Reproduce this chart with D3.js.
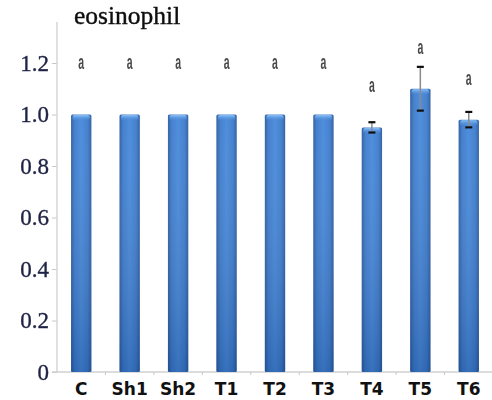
<!DOCTYPE html>
<html>
<head>
<meta charset="utf-8">
<script src="https://cdn.jsdelivr.net/npm/d3@7"></script>
<style>
  html, body { margin: 0; padding: 0; background: #fff; }
  svg { display: block; }
</style>
</head>
<body>
<svg id="chart" width="492" height="400"></svg>
<script>
// Relative eosinophil level per group, with standard error and significance letter
const groups  = ["C", "Sh1", "Sh2", "T1", "T2", "T3", "T4", "T5", "T6"];
const means   = [1.00, 1.00, 1.00, 1.00, 1.00, 1.00, 0.95, 1.10, 0.98];
const errors  = [0, 0, 0, 0, 0, 0, 0.02, 0.085, 0.03];
const letters = ["a", "a", "a", "a", "a", "a", "a", "a", "a"];
const yTicks  = [0, 0.2, 0.4, 0.6, 0.8, 1.0, 1.2];
const yTickLabels = ["0", "0.2", "0.4", "0.6", "0.8", "1.0", "1.2"];

const svg = d3.select("#chart");
const rows = groups.map((g, i) => ({ g, v: means[i], e: errors[i], l: letters[i] }));

const x = d3.scaleBand().domain(groups).range([57, 493])
  .paddingInner(0.58).paddingOuter(0.29);
const y = d3.scaleLinear().domain([0, 1.2]).range([372, 63]);

// bar shading: darker edges, lighter middle
const defs = svg.append("defs");
const hg = defs.append("linearGradient").attr("id", "barH")
  .attr("x1", 0).attr("x2", 1).attr("y1", 0).attr("y2", 0);
hg.append("stop").attr("offset", "0%").attr("stop-color", "#2a5a9e");
hg.append("stop").attr("offset", "18%").attr("stop-color", "#3b7acb");
hg.append("stop").attr("offset", "50%").attr("stop-color", "#4688da");
hg.append("stop").attr("offset", "82%").attr("stop-color", "#3b7acb");
hg.append("stop").attr("offset", "100%").attr("stop-color", "#2a5a9e");
const vg = defs.append("linearGradient").attr("id", "barV")
  .attr("x1", 0).attr("x2", 0).attr("y1", 0).attr("y2", 1);
vg.append("stop").attr("offset", "0%").attr("stop-color", "#ffffff").attr("stop-opacity", 0.05);
vg.append("stop").attr("offset", "100%").attr("stop-color", "#0a2a60").attr("stop-opacity", 0.25);
const cap = defs.append("linearGradient").attr("id", "barCap")
  .attr("x1", 0).attr("x2", 0).attr("y1", 0).attr("y2", 1);
cap.append("stop").attr("offset", "0%").attr("stop-color", "#8cc0f7");
cap.append("stop").attr("offset", "100%").attr("stop-color", "#4a8ad8").attr("stop-opacity", 0);

const soft = defs.append("filter").attr("id", "soft");
soft.append("feGaussianBlur").attr("stdDeviation", 0.45);

// y axis
const yAxis = d3.axisLeft(y).tickValues(yTicks)
  .tickFormat((d, i) => yTickLabels[i]).tickSize(5).tickPadding(3);
const gy = svg.append("g").attr("transform", "translate(57,0)").call(yAxis);
gy.select(".domain").remove();
gy.selectAll(".tick line").attr("stroke", "#c8c8c8");
gy.selectAll(".tick text")
  .attr("font-family", "'Liberation Serif', 'Times New Roman', serif")
  .attr("font-size", 23).attr("fill", "#1f2244")
  .attr("stroke", "#1f2244").attr("stroke-width", 0.35)
  .attr("filter", "url(#soft)");
svg.append("line").attr("x1", 57).attr("x2", 57).attr("y1", 22).attr("y2", y(0))
  .attr("stroke", "#d6d6d6").attr("stroke-width", 1.5);

// x axis
const gx = svg.append("g").attr("transform", `translate(0,${y(0)})`)
  .call(d3.axisBottom(x).tickSize(0).tickPadding(11));
gx.select(".domain").attr("stroke", "#d0d0d0").attr("stroke-width", 1.3)
  .attr("d", `M52,0H492`);
gx.selectAll(".tick text")
  .attr("font-family", "'DejaVu Sans', Verdana, sans-serif")
  .attr("font-weight", "bold").attr("font-size", 17).attr("fill", "#111");
svg.append("g").selectAll("line").data(groups.slice(1)).join("line")
  .attr("x1", d => x(d) - x.step() * x.paddingInner() / 2)
  .attr("x2", d => x(d) - x.step() * x.paddingInner() / 2)
  .attr("y1", y(0)).attr("y2", y(0) + 3)
  .attr("stroke", "#c8c8c8");

// bars
const bars = svg.append("g").attr("filter", "url(#soft)");
bars.selectAll("rect.body").data(rows).join("rect").attr("class", "body")
  .attr("x", d => x(d.g)).attr("width", x.bandwidth())
  .attr("y", d => y(d.v)).attr("height", d => y(0) - y(d.v))
  .attr("rx", 1.5).attr("fill", "url(#barH)");
bars.selectAll("rect.shade").data(rows).join("rect").attr("class", "shade")
  .attr("x", d => x(d.g)).attr("width", x.bandwidth())
  .attr("y", d => y(d.v)).attr("height", d => y(0) - y(d.v))
  .attr("fill", "url(#barV)");
bars.selectAll("rect.cap").data(rows).join("rect").attr("class", "cap")
  .attr("x", d => x(d.g) + 1.5).attr("width", x.bandwidth() - 3)
  .attr("y", d => y(d.v) + 0.5).attr("height", 6).attr("rx", 2)
  .attr("fill", "url(#barCap)");

// error bars
const eb = svg.append("g").attr("filter", "url(#soft)")
  .selectAll("g").data(rows.filter(d => d.e > 0)).join("g");
eb.append("line")
  .attr("x1", d => x(d.g) + x.bandwidth() / 2).attr("x2", d => x(d.g) + x.bandwidth() / 2)
  .attr("y1", d => y(d.v + d.e)).attr("y2", d => y(d.v - d.e))
  .attr("stroke", "#8a8a8a").attr("stroke-width", 1.5);
[1, -1].forEach(s => {
  eb.append("line")
    .attr("x1", d => x(d.g) + x.bandwidth() / 2 - 3.5).attr("x2", d => x(d.g) + x.bandwidth() / 2 + 3.5)
    .attr("y1", d => y(d.v + s * d.e)).attr("y2", d => y(d.v + s * d.e))
    .attr("stroke", "#111").attr("stroke-width", 2.2);
});

// significance letters
svg.append("g").attr("filter", "url(#soft)")
  .selectAll("text").data(rows).join("text")
  .attr("transform", d => `translate(${x(d.g) + x.bandwidth() / 2},${y(d.v) - (d.e > 0 ? 42 : 52)}) scale(0.5,1)`)
  .attr("text-anchor", "middle").attr("dominant-baseline", "central")
  .attr("font-family", "'Liberation Sans', Arial, sans-serif")
  .attr("font-size", 21).attr("font-weight", "bold").attr("fill", "#4a4a4a")
  .text(d => d.l);

// title
svg.append("text").attr("x", 74).attr("y", 24)
  .attr("font-family", "'Liberation Serif', 'Times New Roman', serif")
  .attr("font-size", 25.5).attr("fill", "#111")
  .attr("stroke", "#111").attr("stroke-width", 0.4)
  .attr("filter", "url(#soft)")
  .text("eosinophil");
</script>
</body>
</html>
